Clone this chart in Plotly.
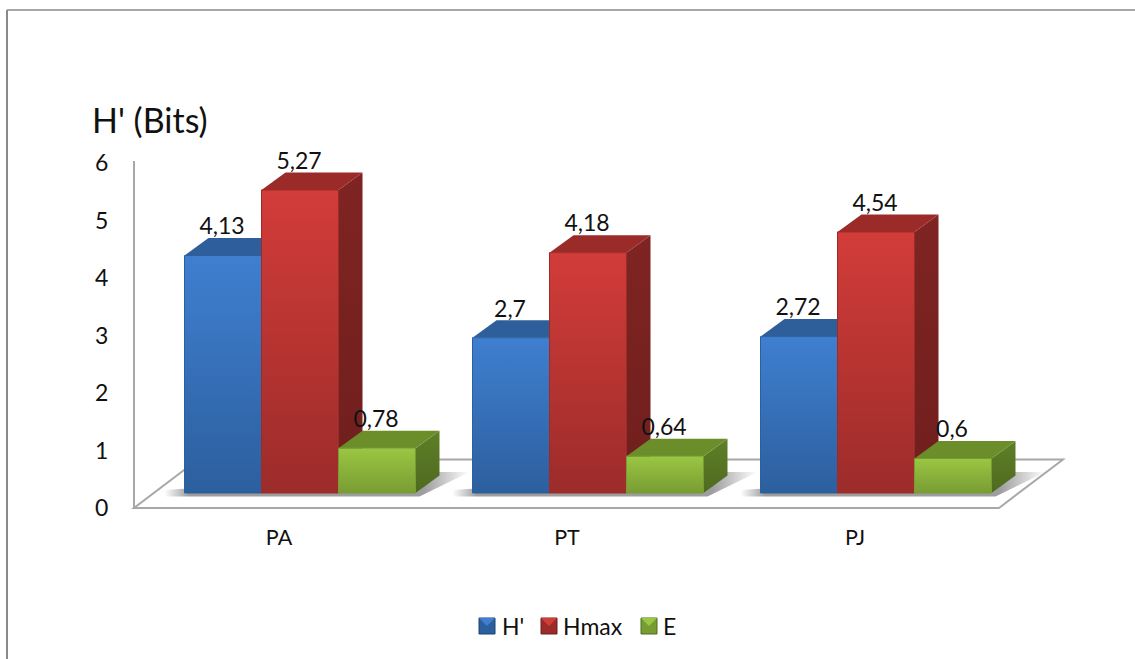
import plotly.graph_objects as go

W, H = 1135, 659

categories = ["PA", "PT", "PJ"]
series_names = ["H'", "Hmax", "E"]
h_values = [4.13, 2.7, 2.72]
hmax_values = [5.27, 4.18, 4.54]
e_values = [0.78, 0.64, 0.6]
y_ticks = [0, 1, 2, 3, 4, 5, 6]

# front, front bottom, top, side, side bottom
blue = ["#3f7fd0", "#2c5f9e", "#2f5f9b", "#254f85", "#1f4370"]
red = ["#d23c39", "#9c2c2a", "#9b2b29", "#7f2422", "#6f1f1d"]
green = ["#9ac742", "#789c33", "#6b8e2b", "#5f7f27", "#4e6a20"]
series_values = [h_values, hmax_values, e_values]
series_colors = [blue, red, green]

# pixel layout of the plot (the axes fill the whole page)
PX_PER_UNIT = 57.5
CAT_STEP = 288.0
CAT0_PX = 279.0
BAR_BASE_PX = 493.0
AXIS_ZERO_PX = 508.0
BAR_W = 77 / CAT_STEP
GROUP_SHIFT = 21 / CAT_STEP
DX = 24 / CAT_STEP
DY = 17.5 / PX_PER_UNIT
FONT = "Lato"


def paper_x(p):
    return p / W


def paper_y(p):
    return 1 - p / H


fig = go.Figure()


def add_face(xs, ys, colors, name, edge=0):
    fig.add_trace(go.Scatter(
        x=xs + xs[:1], y=ys + ys[:1], mode="lines", fill="toself",
        line=dict(width=edge, color=colors[1]),
        fillgradient=dict(type="vertical", colorscale=[[0, colors[1]], [1, colors[0]]]),
        name=name, hoverinfo="name", showlegend=False,
    ))


# soft shadows on the floor
for i in range(len(categories)):
    left = i + GROUP_SHIFT - 1.5 * BAR_W
    right = i + GROUP_SHIFT + 1.5 * BAR_W
    px_x, px_y = 1 / CAT_STEP, 1 / PX_PER_UNIT
    fig.add_trace(go.Scatter(
        x=[left - 20 * px_x, right + 4 * px_x, right + DX + 30 * px_x, right + DX, left - 20 * px_x,
           left - 20 * px_x],
        y=[-3.5 * px_y, -3.5 * px_y, 21 * px_y, 21 * px_y, 3 * px_y, -3.5 * px_y],
        mode="lines", fill="toself",
        line=dict(width=0, color="rgba(0,0,0,0)"),
        fillgradient=dict(type="horizontal", colorscale=[
            [0, "rgba(140,140,140,0)"], [0.08, "rgba(140,140,140,0.85)"],
            [0.85, "rgba(140,140,140,0.85)"], [1, "rgba(140,140,140,0)"]]),
        hoverinfo="skip", showlegend=False,
    ))

label_x, label_y, label_text = [], [], []
for i, cat in enumerate(categories):
    for j, name in enumerate(series_names):
        v = series_values[j][i]
        c = series_colors[j]
        x0 = i + GROUP_SHIFT + (j - 1.5) * BAR_W
        x1 = x0 + BAR_W
        add_face([x1, x1 + DX, x1 + DX, x1], [0, DY, v + DY, v], [c[3], c[4]], f"{name} {cat}")
        add_face([x0, x1, x1 + DX, x0 + DX], [v, v, v + DY, v + DY], [c[2], c[2]], f"{name} {cat}")
        add_face([x0, x1, x1, x0], [0, 0, v, v], c, f"{name} {cat}: {v}", edge=1)
        label_x.append((x0 + x1) / 2 - 1 / CAT_STEP)
        label_y.append(v + 27 / PX_PER_UNIT)
        label_text.append(f"{v:g}".replace(".", ","))

fig.add_trace(go.Scatter(
    x=label_x, y=label_y, text=label_text, mode="text", textposition="middle center",
    textfont=dict(family=FONT, size=23, color="#111111"), hoverinfo="skip", showlegend=False,
))
# keeps the tick axis alive
fig.add_trace(go.Scatter(x=[0], y=[0], yaxis="y2", mode="markers", marker=dict(opacity=0),
                         hoverinfo="skip", showlegend=False))

shapes = [
    # page frame
    dict(type="line", xref="paper", yref="paper", x0=paper_x(7), x1=1, y0=paper_y(10), y1=paper_y(10),
         line=dict(color="#8a8a8a", width=1.5)),
    dict(type="line", xref="paper", yref="paper", x0=paper_x(7), x1=paper_x(7), y0=paper_y(10), y1=0,
         line=dict(color="#8a8a8a", width=2)),
    # floor of the 3D box
    dict(type="path", xref="paper", yref="paper", layer="below",
         path=f"M{paper_x(134)},{paper_y(508)}L{paper_x(999)},{paper_y(508)}"
              f"L{paper_x(1063)},{paper_y(459.5)}L{paper_x(198)},{paper_y(459.5)}Z",
         line=dict(color="#a8a8a8", width=2), fillcolor="white"),
]

annotations = [
    dict(text="H' (Bits)", xref="paper", yref="paper", x=paper_x(90), y=paper_y(119), xanchor="left",
         yanchor="middle", showarrow=False, font=dict(family=FONT, size=34, color="#111111")),
]

# hand-made legend with the bevelled swatches of the original
legend_px = [(479, 500), (541, 561), (641, 661)]
LEG_Y = 626
for (sx, tx), name, c in zip(legend_px, series_names, series_colors):
    x0, x1 = paper_x(sx), paper_x(sx + 16)
    y0, y1 = paper_y(LEG_Y + 8), paper_y(LEG_Y - 8)
    shapes.append(dict(type="rect", xref="paper", yref="paper", x0=x0, x1=x1, y0=y0, y1=y1,
                       fillcolor=c[1], line=dict(color=c[4], width=1)))
    shapes.append(dict(type="path", xref="paper", yref="paper",
                       path=f"M{x0},{y1}L{x1},{y1}L{(x0 + x1) / 2},{paper_y(LEG_Y)}Z",
                       fillcolor=c[0], line=dict(width=0)))
    annotations.append(dict(text=name, xref="paper", yref="paper", x=paper_x(tx), y=paper_y(LEG_Y),
                            xanchor="left", yanchor="middle", showarrow=False,
                            font=dict(family=FONT, size=23, color="#111111")))

fig.update_layout(
    width=W, height=H, margin=dict(l=0, r=0, t=0, b=0, autoexpand=False), autosize=False,
    paper_bgcolor="white", plot_bgcolor="rgba(0,0,0,0)", showlegend=False,
    hovermode="closest", shapes=shapes, annotations=annotations,
    xaxis=dict(
        domain=[0, 1], anchor="y2", automargin=False,
        range=[(0 - CAT0_PX) / CAT_STEP, (W - CAT0_PX) / CAT_STEP],
        tickmode="array", tickvals=list(range(len(categories))), ticktext=categories,
        showgrid=False, zeroline=False, showline=False, ticks="", ticklabelstandoff=14,
        tickfont=dict(family=FONT, size=21.5, color="#111111"),
    ),
    yaxis=dict(
        domain=[0, 1],
        range=[(BAR_BASE_PX - H) / PX_PER_UNIT, BAR_BASE_PX / PX_PER_UNIT],
        visible=False,
    ),
    yaxis2=dict(
        side="left", anchor="free", position=paper_x(134), automargin=False,
        domain=[paper_y(AXIS_ZERO_PX), paper_y(161)],
        range=[0, (AXIS_ZERO_PX - 161) / PX_PER_UNIT],
        tickmode="array", tickvals=y_ticks,
        showgrid=False, zeroline=False, ticks="", ticklabelstandoff=20,
        showline=True, linecolor="#a8a8a8", linewidth=2,
        tickfont=dict(family=FONT, size=23, color="#111111"),
    ),
)

fig.write_html("out.html", config={"displayModeBar": False},
               post_script="document.body.style.margin='0';")
